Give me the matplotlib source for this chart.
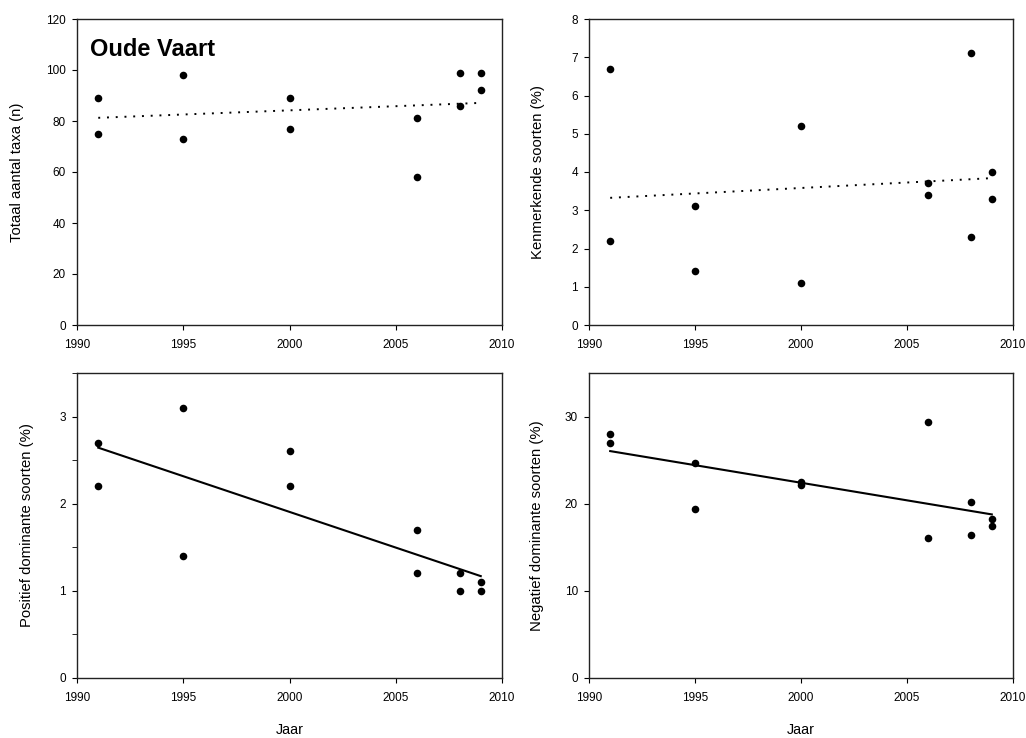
import numpy as np
import matplotlib
matplotlib.use("Agg")
import matplotlib.pyplot as plt
from matplotlib.ticker import MultipleLocator

plt.rcParams.update({
    "font.family": ["Liberation Sans", "DejaVu Sans"],
    "axes.edgecolor": "#222222", "axes.linewidth": 1.0,
    "xtick.direction": "out", "ytick.direction": "out",
    "xtick.major.size": 3.5, "ytick.major.size": 3.5,
    "xtick.minor.size": 3.5, "ytick.minor.size": 3.5,
    "xtick.labelsize": 8.5, "ytick.labelsize": 8.5,
    "xtick.major.pad": 6.5, "ytick.major.pad": 4.5,
})

# sampling years (two samples per year)
years = [1991, 1991, 1995, 1995, 2000, 2000, 2006, 2006, 2008, 2008, 2009, 2009]

totaal = [89, 75, 98, 73, 89, 77, 81, 58, 99, 86, 99, 92]
kenmerkend = [6.7, 2.2, 3.1, 1.4, 5.2, 1.1, 3.7, 3.4, 7.1, 2.3, 4.0, 3.3]
positief = [2.7, 2.2, 3.1, 1.4, 2.6, 2.2, 1.7, 1.2, 1.2, 1.0, 1.1, 1.0]
negatief = [28.0, 27.0, 24.7, 19.4, 22.5, 22.2, 29.4, 16.1, 20.2, 16.4, 18.2, 17.5]

ylabels = ["Totaal aantal taxa (n)", "Kenmerkende soorten (%)",
           "Positief dominante soorten (%)", "Negatief dominante soorten (%)"]

fig = plt.figure(figsize=(10.26, 7.38), dpi=100)
W, H = 1026, 738


def add_ax(l, t, r, b):
    return fig.add_axes([l / W, 1 - b / H, (r - l) / W, (b - t) / H])


panels = [
    # (data, rect, ylim, major step, minor step, line style, ylabel x)
    (totaal, (77, 19, 502, 325), 120, 20, None, "dotted", -0.125),
    (kenmerkend, (589, 19, 1013, 325), 8, 1, None, "dotted", -0.104),
    (positief, (77, 373, 502, 678), 3.5, 1, 0.5, "solid", -0.101),
    (negatief, (589, 373, 1013, 678), 35, 10, None, "solid", -0.106),
]

x = np.array(years, dtype=float)
for i, (vals, rect, ytop, step, mstep, ls, lx) in enumerate(panels):
    ax = add_ax(*rect)
    y = np.array(vals, dtype=float)
    ax.scatter(x, y, s=30, color="black", zorder=3, linewidths=0)
    # linear trend through the samples
    k, c = np.polyfit(x, y, 1)
    xl = np.array([x.min(), x.max()])
    if ls == "dotted":
        ax.plot(xl, k * xl + c, color="black", lw=1.4, linestyle=(0, (1, 3.5)))
    else:
        ax.plot(xl, k * xl + c, color="black", lw=1.5)
    ax.set_xlim(1990, 2010)
    ax.set_ylim(0, ytop)
    ax.xaxis.set_major_locator(MultipleLocator(5))
    ax.yaxis.set_major_locator(MultipleLocator(step))
    if mstep:
        ax.yaxis.set_minor_locator(MultipleLocator(mstep))
    ax.tick_params(top=False, right=False)
    ax.set_ylabel(ylabels[i], fontsize=10.7)
    ax.yaxis.set_label_coords(lx, 0.5)
    if i >= 2:
        ax.set_xlabel("Jaar", fontsize=10.4)
        ax.xaxis.set_label_coords(0.5, -0.147)
    if i == 0:
        ax.text(0.03, 0.9, "Oude Vaart", transform=ax.transAxes,
                fontsize=17, fontweight="bold", va="center", ha="left")

fig.savefig("out.png", dpi=100)
